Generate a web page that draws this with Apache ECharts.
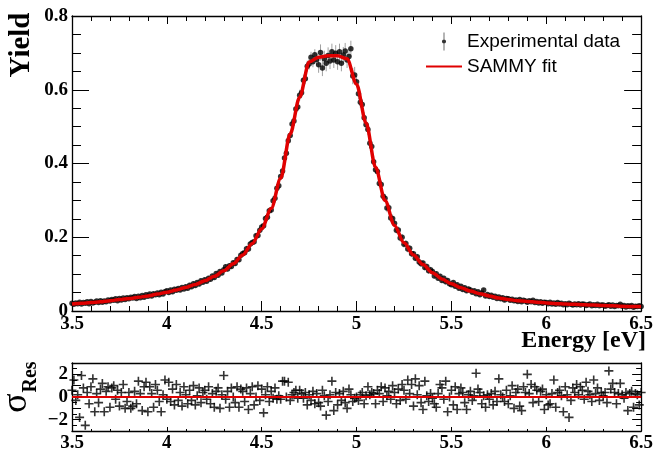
<!DOCTYPE html>
<html><head><meta charset="utf-8">
<script src="https://cdn.jsdelivr.net/npm/echarts@6/dist/echarts.min.js"></script>
<style>html,body{margin:0;padding:0;background:#fff}#c{width:656px;height:453px}</style>
</head><body><div id="c"></div>
<script>
// ---- data ----
const energyStart = 3.5, dataStep = 0.01, fitStep = 0.05;

// SAMMY fit values, 3.50 .. 6.50 every 0.05 eV
const fitYield = [
  0.019,0.021,0.023,0.025,0.028,0.031,0.034,0.037,0.041,0.046,
  0.051,0.057,0.064,0.072,0.082,0.094,0.109,0.128,0.152,0.183,
  0.223,0.278,0.360,0.480,0.580,0.675,0.688,0.692,0.692,0.684,
  0.615,0.510,0.390,0.300,0.232,0.185,0.152,0.126,0.104,0.087,
  0.074,0.063,0.054,0.047,0.041,0.035,0.031,0.028,0.026,0.024,
  0.022,0.020,0.019,0.018,0.017,0.016,0.015,0.014,0.013,0.012,
  0.012
];

// Experimental yield, 3.50 .. 6.50 every 0.01 eV
const dataYield = [
  0.021,0.018,0.022,0.020,0.024,0.019,0.023,0.021,0.025,0.020,
  0.026,0.022,0.024,0.027,0.023,0.028,0.024,0.027,0.025,0.030,
  0.027,0.031,0.029,0.033,0.028,0.034,0.030,0.035,0.031,0.036,
  0.033,0.037,0.035,0.039,0.034,0.040,0.036,0.042,0.037,0.044,
  0.040,0.046,0.041,0.047,0.044,0.049,0.044,0.051,0.046,0.052,
  0.055,0.050,0.057,0.052,0.059,0.056,0.061,0.057,0.064,0.060,
  0.066,0.062,0.070,0.066,0.074,0.069,0.077,0.073,0.082,0.078,
  0.085,0.081,0.089,0.086,0.095,0.091,0.102,0.097,0.107,0.103,
  0.112,0.120,0.114,0.123,0.121,0.131,0.129,0.140,0.139,0.151,
  0.156,0.158,0.169,0.168,0.182,0.186,0.188,0.204,0.205,0.219,
  0.228,0.231,0.251,0.254,0.272,0.274,0.299,0.306,0.333,0.340,
  0.365,0.380,0.415,0.428,0.462,0.476,0.507,0.515,0.548,0.553,
  0.585,0.592,0.626,0.630,0.664,0.670,0.688,0.676,0.695,0.682,
  0.668,0.701,0.659,0.684,0.672,0.693,0.678,0.703,0.681,0.699,
  0.676,0.703,0.672,0.694,0.705,0.681,0.690,0.711,0.637,0.640,
  0.622,0.589,0.566,0.560,0.524,0.505,0.492,0.455,0.446,0.405,
  0.383,0.378,0.346,0.343,0.311,0.306,0.279,0.280,0.252,0.251,
  0.238,0.219,0.220,0.198,0.200,0.181,0.183,0.168,0.170,0.155,
  0.155,0.143,0.147,0.133,0.128,0.130,0.118,0.121,0.109,0.112,
  0.107,0.095,0.101,0.089,0.094,0.083,0.089,0.079,0.083,0.074,
  0.071,0.077,0.067,0.071,0.062,0.067,0.058,0.063,0.055,0.060,
  0.057,0.051,0.055,0.047,0.052,0.044,0.049,0.057,0.041,0.045,
  0.039,0.043,0.037,0.040,0.034,0.038,0.033,0.036,0.030,0.034,
  0.033,0.029,0.032,0.028,0.030,0.026,0.031,0.025,0.029,0.027,
  0.024,0.028,0.025,0.029,0.023,0.026,0.022,0.025,0.021,0.024,
  0.023,0.020,0.024,0.019,0.022,0.018,0.023,0.019,0.021,0.017,
  0.020,0.017,0.021,0.018,0.016,0.019,0.017,0.020,0.016,0.019,
  0.018,0.015,0.017,0.019,0.014,0.017,0.015,0.018,0.014,0.016,
  0.016,0.013,0.015,0.017,0.013,0.016,0.012,0.015,0.014,0.018,
  0.013,0.015,0.011,0.014,0.012,0.015,0.010,0.013,0.012,0.014,
  0.012
];

// Yield uncertainty per 0.1 eV bin, 3.5 .. 6.5
const dataErr = [
  0.004,0.004,0.004,0.004,0.005,0.005,0.006,0.006,0.007,0.008,
  0.009,0.011,0.015,0.022,0.022,0.015,0.011,0.009,0.008,0.007,
  0.006,0.005,0.005,0.004,0.004,0.004,0.004,0.004,0.004,0.004,
  0.004
];

// Normalised residuals, 3.50 .. 6.50 every 0.01 eV
const residuals = [
  0.6,1.5,-0.3,0.2,-1.8,1.9,0.8,-2.5,0.4,-0.6,
  0.9,1.6,-1.3,0.3,-0.5,0.7,1.2,-1.3,0.5,0.9,
  -0.9,0.8,1.0,-0.2,0.6,-0.8,0.4,1.1,-1.0,-0.4,
  0.4,-1.0,-0.8,0.5,-0.6,1.4,0.3,-1.2,0.9,1.3,
  -1.3,0.9,0.3,-0.9,1.1,0.6,-0.4,-1.3,0.2,1.5,
  -0.2,1.3,-0.4,0.7,-0.7,1.1,-0.3,0.4,-0.8,0.9,
  0.2,-0.6,0.6,-0.3,1.0,-0.7,0.1,0.8,-0.5,0.4,
  0.6,-0.2,0.9,-0.6,0.3,-0.9,0.5,0.8,-1.0,0.2,
  1.9,-0.2,0.5,-0.9,0.8,0.0,-0.5,0.9,-0.9,0.7,
  0.5,-0.4,0.8,-1.1,0.3,0.9,-0.7,0.0,1.0,-0.3,
  0.7,-1.4,0.2,0.9,-0.4,0.5,-0.1,0.8,-0.2,0.1,
  -0.2,1.4,1.4,0.0,1.3,-0.3,0.2,0.4,0.6,-0.1,
  0.6,0.3,-0.1,0.4,-0.7,0.2,-0.3,0.5,-0.6,0.3,
  -0.5,-0.8,0.6,0.1,-1.6,-0.4,0.2,1.4,-1.2,0.4,
  -0.7,0.3,-0.3,0.5,-0.5,-1.0,0.7,0.2,-0.4,-0.1,
  0.0,-0.3,0.2,0.4,-0.6,0.1,0.9,0.2,0.4,0.3,
  -0.6,0.6,0.3,0.9,-0.4,0.8,0.1,0.5,-0.2,1.0,
  0.4,-0.6,0.7,-0.3,1.1,0.6,-0.2,1.5,0.3,1.1,
  -0.8,1.6,0.2,1.0,-0.5,-1.1,1.4,0.1,-0.4,0.3,
  -0.1,-0.6,-0.9,0.3,1.1,0.8,-0.2,1.4,-1.3,0.0,
  0.6,-0.7,0.9,-1.1,0.3,0.8,0.4,-0.5,-1.1,0.2,
  0.5,-0.3,0.1,2.1,0.7,0.4,-0.6,0.1,-0.9,0.2,
  -0.2,0.3,-0.7,0.5,-0.4,1.6,0.2,0.0,-0.4,0.6,
  -0.6,0.1,1.0,-1.0,0.4,0.7,-0.8,-1.2,0.9,0.4,
  2.0,0.3,1.1,-0.5,0.9,0.6,-0.4,0.5,0.7,-1.1,
  0.2,-0.7,-0.6,0.3,1.5,-0.9,0.4,0.6,0.1,-1.3,
  0.9,0.2,-1.8,-0.3,0.8,0.4,1.1,0.2,0.9,0.6,
  -0.2,1.3,0.5,0.2,-0.4,1.5,0.3,0.8,-0.3,0.4,
  0.1,0.4,-0.5,2.3,0.7,1.2,0.4,-0.6,0.3,1.2,
  0.2,-0.1,0.4,-1.2,0.3,0.5,-0.9,0.3,0.2,-0.7,
  0.4
];

// ---- build ----
const dataPts = dataYield.map((y, i) => [+(energyStart + i * dataStep).toFixed(2), y, dataErr[Math.floor(i / 10)]]);
const fitPts = fitYield.map((y, i) => [+(energyStart + i * fitStep).toFixed(2), y]);
const resPts = residuals.map((r, i) => [+(energyStart + i * dataStep).toFixed(2), r]);

const serif = '"Liberation Serif", "Times New Roman", serif';
const black = '#000';
const red = '#e00000';
const lbl = {fontFamily: serif, fontWeight: 'bold', fontSize: 19, color: black};

function xAx(grid, pos, showLabel, tickLen, minorLen, margin) {
  return {
    type: 'value', gridIndex: grid, position: pos, min: 3.5, max: 6.5, interval: 0.5,
    axisLine: {show: true, onZero: false, lineStyle: {color: black, width: 1.3}},
    axisTick: {show: tickLen > 0, inside: true, length: tickLen, lineStyle: {color: black, width: 1}},
    minorTick: {show: minorLen > 0, splitNumber: 5, length: minorLen, lineStyle: {color: black, width: 1}},
    axisLabel: Object.assign({show: showLabel, margin: margin}, lbl),
    splitLine: {show: false}, minorSplitLine: {show: false}
  };
}
function yAx(grid, pos, showLabel, min, max, interval, tickLen, minorSplit, minorLen, fmt) {
  return {
    type: 'value', gridIndex: grid, position: pos, min: min, max: max, interval: interval,
    axisLine: {show: true, onZero: false, lineStyle: {color: black, width: 1.3}},
    axisTick: {show: true, inside: true, length: tickLen, lineStyle: {color: black, width: 1}},
    minorTick: {show: true, splitNumber: minorSplit, length: minorLen, lineStyle: {color: black, width: 1}},
    axisLabel: Object.assign({show: showLabel, margin: 4, formatter: fmt}, lbl),
    splitLine: {show: false}, minorSplitLine: {show: false}
  };
}
const resFmt = v => (Math.round(v) % 2 === 0) ? (v < 0 ? '\u2212' + Math.abs(v) : String(v)) : '';

const chart = echarts.init(document.getElementById('c'), null, {renderer: 'canvas'});
chart.setOption({
  animation: false,
  backgroundColor: '#fff',
  grid: [
    {left: 72, top: 16, width: 574, height: 295, show: false},
    {left: 72, top: 363, width: 574, height: 71, show: false}
  ],
  xAxis: [
    xAx(0, 'bottom', true, 10, 5, 4),
    xAx(0, 'top', false, 8, 5, 4),
    xAx(1, 'bottom', true, 4, 2, 3),
    xAx(1, 'top', false, 0, 0, 3)
  ],
  yAxis: [
    yAx(0, 'left', true, 0, 0.8, 0.2, 17, 4, 9),
    yAx(0, 'right', false, 0, 0.8, 0.2, 17, 4, 9),
    yAx(1, 'left', true, -3, 3, 1, 9, 2, 5, resFmt),
    yAx(1, 'right', false, -3, 3, 1, 9, 2, 5, resFmt)
  ],
  legend: {
    orient: 'vertical', left: 421, top: 27, itemGap: 6, itemWidth: 36, itemHeight: 18,
    textStyle: {fontFamily: '"Liberation Sans", Arial, sans-serif', fontSize: 19, color: black},
    selectedMode: false,
    data: [
      {name: 'Experimental data', icon: 'path://M9.6,0 H10.4 V20 H9.6 Z M10,7.7 A2.3,2.3 0 1 1 9.999,7.7 Z'},
      {name: 'SAMMY fit', icon: 'path://M0,0 H36 V2 H0 Z', itemStyle: {color: red}}
    ]
  },
  series: [
    {
      name: 'errors', type: 'custom', xAxisIndex: 0, yAxisIndex: 0, z: 1, silent: true,
      encode: {x: 0, y: [1]},
      data: dataPts,
      renderItem: function (params, api) {
        const x = api.value(0), y = api.value(1), s = api.value(2);
        const p1 = api.coord([x, y - s]), p2 = api.coord([x, y + s]);
        return {type: 'line', shape: {x1: p1[0], y1: p1[1], x2: p2[0], y2: p2[1]},
                style: {stroke: '#a0a0a0', lineWidth: 1}};
      }
    },
    {
      name: 'Experimental data', type: 'scatter', xAxisIndex: 0, yAxisIndex: 0, z: 2,
      symbol: 'circle', symbolSize: 5.5, itemStyle: {color: black},
      data: dataPts.map(p => [p[0], p[1]])
    },
    {
      name: 'SAMMY fit', type: 'line', xAxisIndex: 0, yAxisIndex: 0, z: 3,
      symbol: 'none', smooth: 0.3, smoothMonotone: 'x',
      lineStyle: {color: red, width: 3.5}, itemStyle: {color: red},
      data: fitPts
    },
    {
      name: 'residuals', type: 'scatter', xAxisIndex: 2, yAxisIndex: 2, z: 2,
      symbol: 'path://M0,4.1 H10 V5.9 H0 Z M4.1,0 H5.9 V10 H4.1 Z', symbolSize: 9,
      itemStyle: {color: black},
      data: resPts,
      markLine: {
        silent: true, symbol: 'none', label: {show: false},
        lineStyle: {color: red, width: 2, type: 'solid'},
        data: [{yAxis: 0}]
      }
    }
  ],
  graphic: [
    {type: 'text', x: 22, y: 45, rotation: Math.PI / 2,
     style: {text: 'Yield', font: 'bold 29px ' + serif, fill: black, align: 'center', verticalAlign: 'middle', textAlign: 'center', textVerticalAlign: 'middle'}},
    {type: 'text', x: 646, y: 341,
     style: {text: 'Energy [eV]', font: 'bold 24px ' + serif, fill: black, align: 'right', verticalAlign: 'middle', textAlign: 'right', textVerticalAlign: 'middle'}},
    {type: 'text', x: 17, y: 403, rotation: Math.PI / 2,
     style: {text: '\u03c3', font: '36px ' + serif, fill: black, align: 'center', verticalAlign: 'middle', textAlign: 'center', textVerticalAlign: 'middle'}},
    {type: 'text', x: 31, y: 377, rotation: Math.PI / 2,
     style: {text: 'Res', font: 'bold 20px ' + serif, fill: black, align: 'center', verticalAlign: 'middle', textAlign: 'center', textVerticalAlign: 'middle'}}
  ]
});
</script>
</body></html>
